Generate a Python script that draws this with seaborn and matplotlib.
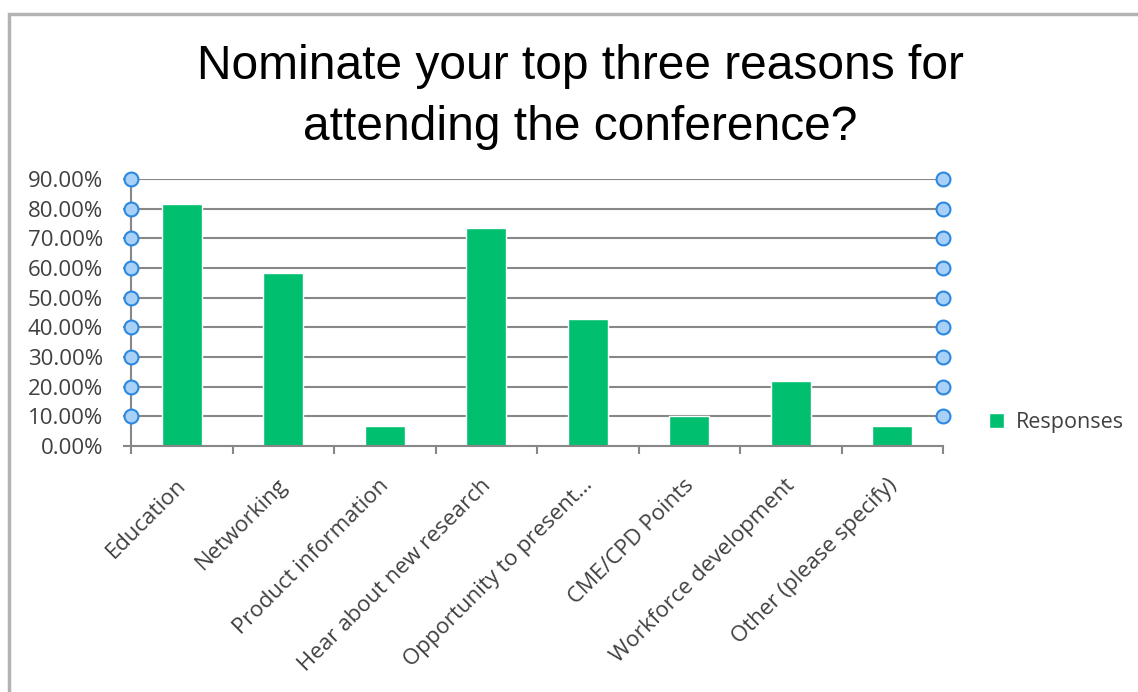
import matplotlib
matplotlib.use("Agg")
import matplotlib.pyplot as plt
import matplotlib.transforms as mtransforms
import seaborn as sns
import pandas as pd
from matplotlib.patches import Rectangle
from matplotlib.ticker import FuncFormatter

# Survey results: share of respondents choosing each reason
categories = [
    "Education",
    "Networking",
    "Product information",
    "Hear about new research",
    "Opportunity to present\u2026",
    "CME/CPD Points",
    "Workforce development",
    "Other (please specify)",
]
responses = [0.815, 0.582, 0.067, 0.734, 0.427, 0.101, 0.218, 0.067]
y_ticks = [0.0, 0.1, 0.2, 0.3, 0.4, 0.5, 0.6, 0.7, 0.8, 0.9]
series_name = "Responses"
title_lines = ["Nominate your top three reasons for", "attending the conference?"]

df = pd.DataFrame({"category": categories, "value": responses})

sns.set_style("white")
plt.rcParams["font.family"] = ["Open Sans", "DejaVu Sans"]

W, H = 1138, 692
fig = plt.figure(figsize=(W / 100, H / 100), dpi=100)
ax = fig.add_axes([131 / W, 1 - 446 / H, (943 - 131) / W, (446 - 179) / H])

green = "#00BF6F"
grid_c = "#878787"
text_c = "#404040"

# horizontal gridlines behind the bars
ax.set_axisbelow(True)
for t in y_ticks[1:]:
    ax.axhline(t, color=grid_c, lw=1.5, zorder=0)

sns.barplot(data=df, x="category", y="value", color=green, width=0.39,
            ax=ax, label=series_name, saturation=1, zorder=2)

ax.set_xlim(-0.5, len(categories) - 0.5)
ax.set_ylim(0, 0.9)
ax.set_yticks(y_ticks)
ax.yaxis.set_major_formatter(FuncFormatter(lambda v, p: f"{v * 100:.2f}%"))
ax.set_xlabel("")
ax.set_ylabel("")

for s in ["top", "right"]:
    ax.spines[s].set_visible(False)
for s in ["left", "bottom"]:
    ax.spines[s].set_color(grid_c)
    ax.spines[s].set_linewidth(1.5)

# tick marks sit between categories
ax.set_xticks([i - 0.5 for i in range(len(categories) + 1)], minor=True)
ax.tick_params(axis="x", which="minor", length=6, width=1.5, color=grid_c,
               direction="out", bottom=True)
ax.tick_params(axis="x", which="major", length=0, pad=17)
ax.tick_params(axis="y", which="major", length=6, width=1.5, color=grid_c,
               direction="out", left=True, pad=14)
ax.set_xticks(range(len(categories)))
ax.set_xticklabels(categories, rotation=45, ha="right", rotation_mode="anchor",
                   fontsize=16, color=text_c)
shift = mtransforms.ScaledTranslation(-6 / 100, -5 / 100, fig.dpi_scale_trans)
for lbl in ax.get_xticklabels():
    lbl.set_transform(lbl.get_transform() + shift)
for lbl in ax.get_yticklabels():
    lbl.set_fontsize(16)
    lbl.set_color(text_c)

# selection handles on both ends of each gridline
handle_y = y_ticks[1:]
for xe in (-0.5, len(categories) - 0.5):
    ax.plot([xe] * len(handle_y), handle_y, linestyle="none", marker="o",
            markersize=10, markerfacecolor="#a9d1f7", markeredgecolor="#2b88e0",
            markeredgewidth=1.5, clip_on=False, zorder=5)

leg = ax.legend(loc="center left", bbox_to_anchor=(980 / W, 1 - 423 / H),
                bbox_transform=fig.transFigure, frameon=False, fontsize=15.5,
                handlelength=0.7, handleheight=0.7, handletextpad=0.55,
                borderaxespad=0)
for t in leg.get_texts():
    t.set_color(text_c)

for line, base in zip(title_lines, (79, 140)):
    fig.text(580 / W, 1 - base / H, line, ha="center", va="baseline",
             fontsize=34.5, family=["Liberation Sans", "DejaVu Sans"],
             color="#000000")

# chart frame
fig.patches.append(Rectangle((8.5 / W, -0.1), 1.2, 1 - 14 / H + 0.1,
                             transform=fig.transFigure, fill=False,
                             edgecolor="#b3b3b3", lw=2.5, zorder=0))

fig.savefig("out.png", dpi=100)
